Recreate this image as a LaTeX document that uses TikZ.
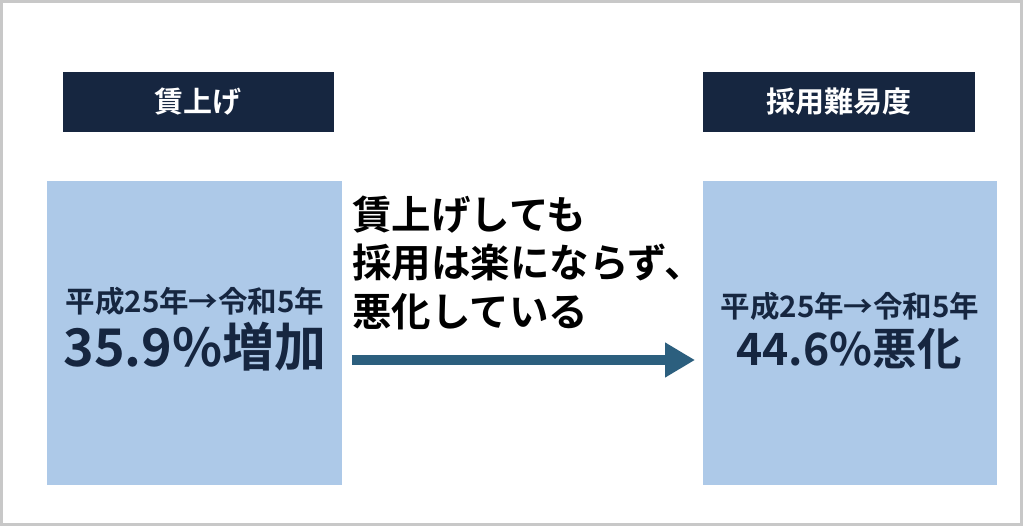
\documentclass[tikz,border=0pt]{standalone}
\usepackage{fontspec}
\setmainfont{Noto Sans CJK JP}[BoldFont={Noto Sans CJK JP Bold}]
\usetikzlibrary{arrows.meta}
\definecolor{navy}{HTML}{162640}
\definecolor{lightblue}{HTML}{ADC9E8}
\definecolor{arrowblue}{HTML}{2C5F7E}
\definecolor{framegray}{HTML}{C8C8C8}
\begin{document}
\begin{tikzpicture}[x=1pt,y=-1pt,
  header/.style={fill=navy,draw=navy,text=white,font=\bfseries\fontsize{29}{34}\selectfont,inner sep=0pt,anchor=north west},
  panel/.style={fill=lightblue,draw=none,inner sep=0pt,anchor=north west},
  small/.style={text=navy,font=\bfseries\fontsize{29.5}{36}\selectfont,inner sep=0pt},
  big/.style={text=navy,font=\bfseries\fontsize{52}{60}\selectfont,inner sep=0pt},
  bigr/.style={text=navy,font=\bfseries\fontsize{44.5}{56}\selectfont,inner sep=0pt},
  msg/.style={text=black,font=\bfseries\fontsize{39.5}{48.5}\selectfont,inner sep=0pt,align=left,anchor=base west}]
\useasboundingbox (0,0) rectangle (1024,528);
\draw[framegray,line width=3pt] (1.5,1.5) rectangle (1021.5,524.5);
% headers
\node[header,minimum width=270pt,minimum height=59pt] (h1) at (63,72) {賃上げ};
\node[header,minimum width=271pt,minimum height=59pt] (h2) at (703,72) {採用難易度};
% panels
\node[panel,minimum width=295pt,minimum height=304pt] (p1) at (47,181) {};
\node[panel,minimum width=294pt,minimum height=304pt] (p2) at (703,181) {};
% panel texts
\node[small] (l1) at (195,301) {平成25年→令和5年};
\node[big] (l2) at (195,347) {35.9\%増加};
\node[small] (r1) at (850,306) {平成25年→令和5年};
\node[bigr] (r2) at (849,349) {44.6\%悪化};
% message
\node[msg] (m) at (352,326) {賃上げしても\\採用は楽にならず、\\悪化している};
% arrow
\coordinate (a1) at ([xshift=10pt]p1.east |- 0,360);
\coordinate (a2) at ([xshift=-8pt]p2.west |- 0,360);
\draw[arrowblue,line width=10pt,-{Triangle[length=30pt,width=33pt]}] (a1) -- (a2);
\end{tikzpicture}
\end{document}
